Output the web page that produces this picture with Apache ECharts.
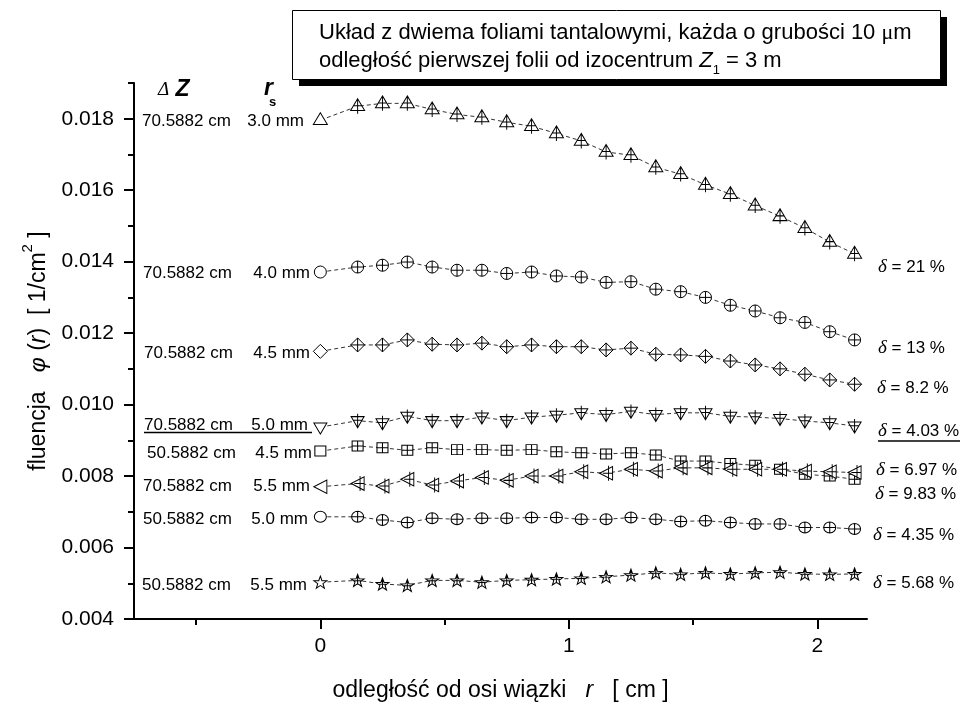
<!DOCTYPE html>
<html>
<head>
<meta charset="utf-8">
<script src="https://cdn.jsdelivr.net/npm/echarts@6/dist/echarts.min.js"></script>
<style>html,body{margin:0;padding:0;background:#fff}#c{width:961px;height:707px}</style>
</head>
<body>
<div id="c"></div>
<script>
// ---- data ----
const r = [0, 0.15, 0.25, 0.35, 0.45, 0.55, 0.65, 0.75, 0.85, 0.95, 1.05, 1.15, 1.25, 1.35, 1.45, 1.55, 1.65, 1.75, 1.85, 1.95, 2.05, 2.15];
const s70_30 = [0.01796, 0.01835, 0.01843, 0.01843, 0.01826, 0.01812, 0.01804, 0.01790, 0.01779, 0.01759, 0.01738, 0.01707, 0.01698, 0.01664, 0.01645, 0.01615, 0.01589, 0.01557, 0.01527, 0.01494, 0.01455, 0.01422];
const s70_40 = [0.01371, 0.01385, 0.01390, 0.01399, 0.01385, 0.01376, 0.01376, 0.01367, 0.01371, 0.01360, 0.01357, 0.01342, 0.01344, 0.01323, 0.01316, 0.01300, 0.01278, 0.01262, 0.01243, 0.01230, 0.01204, 0.01181];
const s70_45 = [0.01149, 0.01167, 0.01167, 0.01181, 0.01169, 0.01167, 0.01172, 0.01162, 0.01167, 0.01162, 0.01162, 0.01153, 0.01158, 0.01141, 0.01139, 0.01135, 0.01122, 0.01111, 0.01100, 0.01085, 0.01069, 0.01057];
const s70_50 = [0.00937, 0.00955, 0.00949, 0.00967, 0.00955, 0.00955, 0.00965, 0.00955, 0.00965, 0.00970, 0.00977, 0.00972, 0.00981, 0.00972, 0.00977, 0.00977, 0.00967, 0.00965, 0.00961, 0.00954, 0.00949, 0.00940];
const s50_45 = [0.00870, 0.00884, 0.00879, 0.00872, 0.00879, 0.00874, 0.00874, 0.00872, 0.00874, 0.00868, 0.00865, 0.00862, 0.00865, 0.00859, 0.00842, 0.00842, 0.00835, 0.00830, 0.00819, 0.00805, 0.00800, 0.00791];
const s70_55 = [0.00770, 0.00779, 0.00772, 0.00791, 0.00775, 0.00786, 0.00796, 0.00788, 0.00800, 0.00800, 0.00812, 0.00808, 0.00819, 0.00814, 0.00823, 0.00823, 0.00819, 0.00819, 0.00819, 0.00814, 0.00812, 0.00810];
const s50_50 = [0.00686, 0.00686, 0.00677, 0.00670, 0.00682, 0.00679, 0.00682, 0.00682, 0.00684, 0.00684, 0.00679, 0.00679, 0.00684, 0.00679, 0.00673, 0.00675, 0.00670, 0.00666, 0.00666, 0.00656, 0.00656, 0.00652];
const s50_55 = [0.00503, 0.00508, 0.00498, 0.00494, 0.00508, 0.00508, 0.00503, 0.00508, 0.00510, 0.00512, 0.00514, 0.00518, 0.00523, 0.00529, 0.00525, 0.00529, 0.00526, 0.00529, 0.00531, 0.00526, 0.00525, 0.00526];

const xMajorTicks = [0, 1, 2];
const xMinorTicks = [-0.5, 0.5, 1.5];
const yMajorTicks = [0.004, 0.006, 0.008, 0.010, 0.012, 0.014, 0.016, 0.018];
const yMinorTicks = [0.005, 0.007, 0.009, 0.011, 0.013, 0.015, 0.017, 0.019];

const rowLabels = [
  {dz: '70.5882 cm', rs: '3.0 mm'},
  {dz: '70.5882 cm', rs: '4.0 mm'},
  {dz: '70.5882 cm', rs: '4.5 mm'},
  {dz: '70.5882 cm', rs: '5.0 mm'},
  {dz: '50.5882 cm', rs: '4.5 mm'},
  {dz: '70.5882 cm', rs: '5.5 mm'},
  {dz: '50.5882 cm', rs: '5.0 mm'},
  {dz: '50.5882 cm', rs: '5.5 mm'}
];
const deltaLabels = ['21', '13', '8.2', '4.03', '6.97', '9.83', '4.35', '5.68'];

// ---- styling / layout ----
const FONT = "'Liberation Sans', Arial, sans-serif";
const paths = {
  triUp:   ['path://M10,1 L19,16 L1,16 Z M10,1 L10,20 M4.5,10 L15.5,10', 'path://M10,1 L19,16 L1,16 Z M10,20 L10,20', [14, 15]],
  circle:  ['path://M10,2 A8,8 0 1,1 9.99,2 Z M2,10 L18,10 M10,2 L10,18', 'path://M10,2 A8,8 0 1,1 9.99,2 Z', [12, 12]],
  diamond: ['path://M10,0 L20,10 L10,20 L0,10 Z M0,10 L20,10 M10,0 L10,20', 'path://M10,0 L20,10 L10,20 L0,10 Z', [14, 14]],
  triDown: ['path://M1,4 L19,4 L10,19 Z M10,0 L10,19 M3.7,9 L16.3,9', 'path://M1,4 L19,4 L10,19 Z M10,0 L10,0', [13, 14]],
  square:  ['path://M1,1 L19,1 L19,19 L1,19 Z M1,10 L19,10 M10,1 L10,19', 'path://M1,1 L19,1 L19,19 L1,19 Z', [11, 10]],
  triLeft: ['path://M2,10 L18,1 L18,19 Z M6,10 L18,10 M13,0 L13,20', 'path://M2,10 L18,1 L18,19 Z M13,0 L13,0 M13,20 L13,20', [13, 15]],
  circle2: ['path://M10,2 A8,8 0 1,1 9.99,2 Z M2,10 L18,10 M10,2 L10,18', 'path://M10,2 A8,8 0 1,1 9.99,2 Z', [12, 11]],
  star:    ['path://M10,0.5 L12.35,7.26 L19.51,7.41 L13.8,11.74 L15.88,18.59 L10,14.5 L4.12,18.59 L6.2,11.74 L0.49,7.41 L7.65,7.26 Z M4.5,10 L15.5,10 M10,3 L10,16', 'path://M10,0.5 L12.35,7.26 L19.51,7.41 L13.8,11.74 L15.88,18.59 L10,14.5 L4.12,18.59 L6.2,11.74 L0.49,7.41 L7.65,7.26 Z', [13, 12]]
};

const seriesDefs = [
  [s70_30, 'triUp'], [s70_40, 'circle'], [s70_45, 'diamond'], [s70_50, 'triDown'],
  [s50_45, 'square'], [s70_55, 'triLeft'], [s50_50, 'circle2'], [s50_55, 'star']
];

const series = seriesDefs.map(([vals, key], k) => ({
  type: 'line',
  name: rowLabels[k].dz + ' ' + rowLabels[k].rs,
  xAxisIndex: 0, yAxisIndex: 0,
  data: r.map((x, i) => i === 0 ? {value: [x, vals[i]], symbol: paths[key][1]} : [x, vals[i]]),
  symbol: paths[key][0],
  symbolSize: paths[key][2],
  showSymbol: true,
  lineStyle: {color: '#000', width: 0.8, type: [4, 3]},
  itemStyle: {color: '#fff', borderColor: '#000', borderWidth: 1},
  z: 3,
  silent: true
}));

// label positions (pixels)
const rowY = [121, 273, 353, 425, 453, 486, 519, 585];
const dzX = [142, 143, 144, 144, 147, 143, 143, 142];
const rsX = [304, 310, 310, 308, 312, 310, 308, 307];
const dY = [267, 348, 388, 431, 470, 494, 535, 583];
const dX = [878, 878, 877, 878, 876, 875, 873, 873];

const graphics = [];
rowLabels.forEach((lab, k) => {
  graphics.push({type: 'text', x: dzX[k], y: rowY[k], style: {text: lab.dz, font: '17px ' + FONT, fill: '#000', textAlign: 'left', textVerticalAlign: 'middle'}, z: 10});
  graphics.push({type: 'text', x: rsX[k], y: rowY[k], style: {text: lab.rs, font: '17px ' + FONT, fill: '#000', textAlign: 'right', textVerticalAlign: 'middle'}, z: 10});
});
deltaLabels.forEach((d, k) => {
  graphics.push({type: 'text', x: dX[k], y: dY[k], style: {
    text: '{d|δ} = ' + d + ' %', fill: '#000', textAlign: 'left', textVerticalAlign: 'middle',
    rich: {d: {fontFamily: "'Liberation Serif', serif", fontStyle: 'italic', fontSize: 19, fill: '#000'}},
    font: '17px ' + FONT}, z: 10});
});
// underlines
graphics.push({type: 'line', shape: {x1: 144, y1: 432.5, x2: 312, y2: 432.5}, style: {stroke: '#000', lineWidth: 1.5}, z: 10});
graphics.push({type: 'line', shape: {x1: 878, y1: 441, x2: 960, y2: 441}, style: {stroke: '#000', lineWidth: 1.5}, z: 10});
// column headers
graphics.push({type: 'text', x: 158, y: 90, style: {text: '{a|Δ}{b| Z}', textVerticalAlign: 'middle',
  rich: {a: {fontFamily: "'Liberation Serif', serif", fontStyle: 'italic', fontSize: 19, fill: '#000'},
         b: {fontFamily: FONT, fontStyle: 'italic', fontWeight: 'bold', fontSize: 23, fill: '#000'}}}, z: 10});
graphics.push({type: 'text', x: 264, y: 89, style: {text: 'r', font: 'italic bold 23px ' + FONT, fill: '#000', textVerticalAlign: 'middle'}, z: 10});
graphics.push({type: 'text', x: 269, y: 102, style: {text: 's', font: 'bold 13px ' + FONT, fill: '#000', textVerticalAlign: 'middle'}, z: 10});
// info box with shadow
graphics.push({type: 'rect', shape: {x: 299, y: 17, width: 648, height: 69}, style: {fill: '#000'}, z: 20});
graphics.push({type: 'rect', shape: {x: 292.5, y: 10.5, width: 648, height: 69}, style: {fill: '#fff', stroke: '#000', lineWidth: 1}, z: 21});
graphics.push({type: 'text', x: 319, y: 33, style: {text: 'Układ z dwiema foliami tantalowymi, każda o grubości 10 {m|μ}m', font: '22px ' + FONT, fill: '#000', textVerticalAlign: 'middle',
  rich: {m: {fontFamily: "'Liberation Serif', serif", fontSize: 22, fill: '#000'}}}, z: 22});
graphics.push({type: 'text', x: 319, y: 61, style: {text: 'odległość pierwszej folii od izocentrum {i|Z}{s|1} = 3 m', font: '22px ' + FONT, fill: '#000', textVerticalAlign: 'middle',
  rich: {i: {fontFamily: FONT, fontStyle: 'italic', fontSize: 22, fill: '#000'}, s: {fontFamily: FONT, fontSize: 13, fill: '#000', verticalAlign: 'bottom', lineHeight: 32}}}, z: 22});

const axisLineStyle = {color: '#000', width: 2};
const option = {
  animation: false,
  backgroundColor: '#fff',
  grid: {left: 134, right: 94, top: 83, bottom: 85},
  xAxis: [{
    type: 'value', min: -0.75, max: 2.2, position: 'bottom',
    axisLine: {show: true, onZero: false, lineStyle: axisLineStyle},
    axisTick: {show: true, customValues: xMajorTicks, length: 10, lineStyle: axisLineStyle},
    axisLabel: {customValues: xMajorTicks, fontSize: 21, fontFamily: FONT, color: '#000', margin: 17, formatter: v => String(Math.round(v))},
    splitLine: {show: false},
    name: 'odległość od osi wiązki   {i|r}   [ cm ]',
    nameLocation: 'middle', nameGap: 60,
    nameTextStyle: {fontSize: 23, fontFamily: FONT, color: '#000', rich: {i: {fontStyle: 'italic', fontSize: 23, fontFamily: FONT, color: '#000'}}}
  }, {
    type: 'value', min: -0.75, max: 2.2, position: 'bottom', gridIndex: 0,
    axisLine: {show: false, onZero: false},
    axisTick: {show: true, customValues: xMinorTicks, length: 6, lineStyle: axisLineStyle},
    axisLabel: {show: false}, splitLine: {show: false}
  }],
  yAxis: [{
    type: 'value', min: 0.004, max: 0.019, position: 'left',
    axisLine: {show: true, onZero: false, lineStyle: axisLineStyle},
    axisTick: {show: true, customValues: yMajorTicks, length: 10, lineStyle: axisLineStyle},
    axisLabel: {customValues: yMajorTicks, fontSize: 21, fontFamily: FONT, color: '#000', margin: 20, formatter: v => v.toFixed(3)},
    splitLine: {show: false},
    name: '{t|fluencja   }{i|φ}{t| (}{i|r}{t|)  [ 1/cm}{sup|2}{t| ]}',
    nameLocation: 'middle', nameGap: 84,
    nameTextStyle: {fontSize: 23, fontFamily: FONT, color: '#000', rich: {
      t: {fontSize: 23, fontFamily: FONT, color: '#000', lineHeight: 30, verticalAlign: 'bottom'},
      i: {fontStyle: 'italic', fontSize: 23, fontFamily: FONT, color: '#000', lineHeight: 30, verticalAlign: 'bottom'},
      sup: {fontSize: 15, fontFamily: FONT, color: '#000', verticalAlign: 'top', lineHeight: 15}}}
  }, {
    type: 'value', min: 0.004, max: 0.019, position: 'left', offset: 0, gridIndex: 0,
    axisLine: {show: false, onZero: false},
    axisTick: {show: true, customValues: yMinorTicks, length: 6, lineStyle: axisLineStyle},
    axisLabel: {show: false}, splitLine: {show: false}
  }],
  series: series,
  graphic: graphics
};
const chart = echarts.init(document.getElementById('c'), null, {renderer: 'canvas'});
chart.setOption(option);
</script>
</body>
</html>
